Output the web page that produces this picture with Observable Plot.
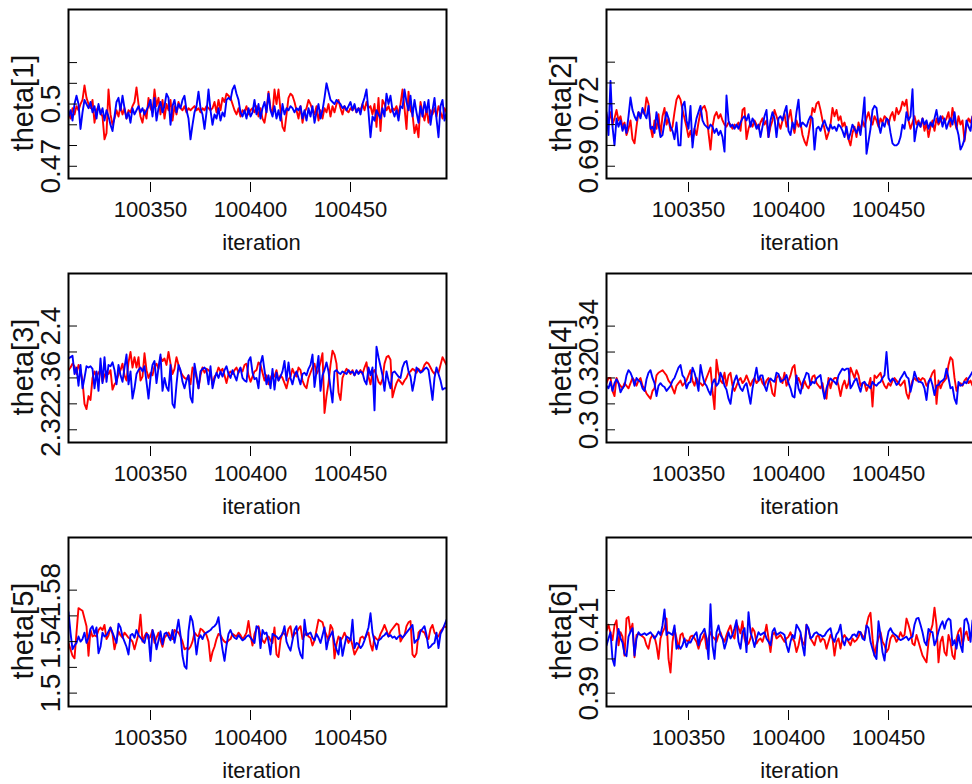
<!DOCTYPE html>
<html><head><meta charset="utf-8">
<script src="https://cdn.jsdelivr.net/npm/d3@7"></script>
<script src="https://cdn.jsdelivr.net/npm/@observablehq/plot@0.6"></script>
<style>
html,body{margin:0;padding:0;background:#fff;}
#chart{position:relative;width:972px;height:784px;overflow:hidden;background:#fff;}
#chart svg{position:absolute;max-width:none;}
</style></head><body><div id="chart"></div>
<script>
const iterations = d3.range(100310, 100500);
const xTicks = [100350, 100400, 100450];
const xLabel = "iteration";

const red1 = [0.496,0.493,0.498,0.495,0.499,0.497,0.500,0.502,0.509,0.503,
0.500,0.498,0.502,0.491,0.497,0.499,0.496,0.494,0.483,0.486,
0.507,0.495,0.490,0.493,0.497,0.494,0.499,0.495,0.498,0.493,
0.497,0.496,0.499,0.501,0.508,0.500,0.494,0.491,0.497,0.493,
0.503,0.498,0.496,0.507,0.499,0.503,0.495,0.502,0.493,0.500,
0.497,0.502,0.492,0.499,0.495,0.501,0.498,0.497,0.499,0.496,
0.498,0.497,0.498,0.499,0.497,0.498,0.496,0.498,0.497,0.499,
0.498,0.497,0.498,0.501,0.496,0.502,0.497,0.503,0.501,0.505,
0.504,0.503,0.500,0.497,0.495,0.498,0.494,0.497,0.496,0.499,
0.495,0.497,0.498,0.496,0.499,0.494,0.498,0.493,0.491,0.497,
0.506,0.498,0.495,0.507,0.500,0.507,0.497,0.489,0.487,0.495,
0.503,0.505,0.504,0.501,0.497,0.493,0.499,0.491,0.496,0.498,
0.502,0.500,0.497,0.495,0.499,0.492,0.497,0.493,0.498,0.496,
0.500,0.494,0.499,0.496,0.500,0.502,0.498,0.495,0.499,0.497,
0.496,0.498,0.497,0.499,0.496,0.498,0.497,0.500,0.497,0.501,
0.498,0.499,0.495,0.500,0.489,0.503,0.487,0.502,0.500,0.497,
0.499,0.496,0.498,0.497,0.499,0.495,0.500,0.507,0.498,0.488,
0.506,0.497,0.495,0.486,0.490,0.484,0.501,0.496,0.492,0.498,
0.491,0.497,0.495,0.498,0.494,0.499,0.496,0.493,0.498,0.496];
const blue1 = [0.494,0.497,0.492,0.500,0.504,0.500,0.488,0.496,0.502,0.500,
0.498,0.501,0.496,0.499,0.493,0.500,0.495,0.498,0.492,0.497,
0.494,0.490,0.487,0.494,0.501,0.503,0.497,0.504,0.498,0.493,
0.496,0.491,0.498,0.495,0.497,0.499,0.496,0.498,0.495,0.497,
0.499,0.502,0.494,0.503,0.492,0.498,0.501,0.496,0.499,0.505,
0.503,0.490,0.499,0.502,0.496,0.500,0.498,0.502,0.504,0.497,
0.493,0.483,0.490,0.496,0.499,0.506,0.498,0.495,0.488,0.496,
0.507,0.497,0.490,0.495,0.493,0.498,0.492,0.496,0.494,0.502,
0.503,0.502,0.507,0.509,0.505,0.502,0.496,0.494,0.497,0.493,
0.498,0.494,0.496,0.502,0.495,0.500,0.493,0.498,0.501,0.496,
0.505,0.497,0.494,0.499,0.493,0.497,0.492,0.500,0.495,0.498,
0.497,0.499,0.498,0.496,0.498,0.497,0.499,0.493,0.497,0.492,
0.498,0.494,0.499,0.491,0.496,0.500,0.493,0.497,0.503,0.510,
0.506,0.502,0.501,0.500,0.502,0.501,0.500,0.498,0.499,0.497,
0.499,0.501,0.497,0.500,0.496,0.498,0.495,0.500,0.503,0.507,
0.496,0.484,0.494,0.492,0.497,0.495,0.493,0.498,0.494,0.505,
0.500,0.504,0.497,0.494,0.497,0.492,0.499,0.498,0.507,0.501,
0.497,0.504,0.494,0.502,0.496,0.491,0.499,0.494,0.501,0.496,
0.502,0.490,0.497,0.503,0.493,0.484,0.499,0.502,0.492,0.496];

const red2 = [0.715,0.711,0.716,0.710,0.713,0.717,0.712,0.714,0.709,0.711,
0.705,0.708,0.712,0.703,0.701,0.709,0.716,0.714,0.717,0.715,
0.723,0.720,0.709,0.704,0.712,0.708,0.715,0.705,0.714,0.718,
0.710,0.713,0.707,0.709,0.716,0.722,0.724,0.722,0.717,0.713,
0.709,0.704,0.707,0.702,0.708,0.705,0.711,0.716,0.718,0.719,
0.716,0.706,0.698,0.709,0.714,0.716,0.713,0.715,0.712,0.710,
0.709,0.711,0.710,0.708,0.710,0.709,0.711,0.707,0.717,0.718,
0.703,0.708,0.711,0.709,0.712,0.710,0.708,0.711,0.713,0.710,
0.712,0.704,0.709,0.712,0.717,0.714,0.711,0.708,0.712,0.715,
0.709,0.713,0.717,0.710,0.706,0.712,0.709,0.711,0.705,0.702,
0.700,0.705,0.711,0.718,0.716,0.720,0.721,0.717,0.712,0.708,
0.703,0.706,0.710,0.718,0.714,0.717,0.712,0.714,0.709,0.711,
0.707,0.703,0.700,0.706,0.709,0.704,0.711,0.707,0.712,0.709,
0.713,0.716,0.712,0.710,0.714,0.712,0.709,0.713,0.711,0.714,
0.713,0.710,0.714,0.716,0.712,0.718,0.715,0.717,0.721,0.719,
0.722,0.712,0.708,0.711,0.714,0.710,0.712,0.709,0.713,0.707,
0.711,0.704,0.709,0.712,0.707,0.713,0.710,0.712,0.714,0.711,
0.713,0.716,0.709,0.718,0.712,0.708,0.714,0.710,0.712,0.702,
0.710,0.713,0.711,0.714,0.712,0.710,0.713,0.711,0.712,0.710];
const blue2 = [0.716,0.705,0.731,0.709,0.700,0.713,0.709,0.712,0.707,0.710,
0.706,0.714,0.723,0.717,0.714,0.712,0.716,0.713,0.718,0.715,
0.713,0.719,0.708,0.709,0.706,0.716,0.710,0.704,0.705,0.711,
0.716,0.713,0.709,0.707,0.703,0.711,0.700,0.700,0.719,0.721,
0.712,0.708,0.719,0.699,0.708,0.713,0.716,0.719,0.712,0.710,
0.709,0.708,0.710,0.709,0.706,0.708,0.705,0.707,0.704,0.697,
0.724,0.712,0.709,0.710,0.708,0.710,0.708,0.711,0.713,0.714,
0.712,0.715,0.709,0.713,0.711,0.708,0.710,0.704,0.709,0.714,
0.717,0.704,0.712,0.716,0.713,0.704,0.713,0.714,0.712,0.716,
0.719,0.707,0.705,0.711,0.708,0.716,0.722,0.709,0.711,0.710,
0.709,0.712,0.714,0.713,0.698,0.708,0.709,0.707,0.710,0.712,
0.709,0.707,0.710,0.708,0.709,0.707,0.710,0.709,0.707,0.704,
0.709,0.703,0.706,0.710,0.708,0.706,0.709,0.705,0.713,0.723,
0.696,0.702,0.708,0.717,0.719,0.718,0.710,0.706,0.711,0.709,
0.713,0.712,0.706,0.701,0.700,0.700,0.701,0.704,0.710,0.708,
0.716,0.712,0.714,0.727,0.702,0.708,0.711,0.709,0.713,0.710,
0.712,0.708,0.711,0.709,0.713,0.717,0.711,0.714,0.709,0.713,
0.708,0.711,0.713,0.710,0.716,0.709,0.705,0.698,0.700,0.703,
0.712,0.709,0.707,0.714,0.711,0.709,0.712,0.710,0.708,0.711];

const red3 = [2.366,2.368,2.371,2.369,2.363,2.370,2.366,2.358,2.340,2.336,
2.346,2.343,2.360,2.365,2.361,2.364,2.366,2.357,2.362,2.365,
2.363,2.366,2.351,2.355,2.357,2.363,2.366,2.371,2.362,2.358,
2.372,2.380,2.368,2.376,2.368,2.376,2.358,2.361,2.379,2.366,
2.360,2.364,2.362,2.369,2.371,2.367,2.376,2.373,2.375,2.370,
2.380,2.371,2.363,2.367,2.376,2.370,2.365,2.362,2.360,2.359,
2.362,2.355,2.368,2.366,2.360,2.352,2.362,2.368,2.364,2.367,
2.366,2.364,2.355,2.361,2.363,2.368,2.365,2.367,2.362,2.356,
2.363,2.365,2.363,2.366,2.368,2.364,2.367,2.365,2.370,2.371,
2.362,2.357,2.361,2.365,2.366,2.372,2.370,2.364,2.358,2.362,
2.355,2.360,2.363,2.361,2.366,2.358,2.362,2.360,2.356,2.352,
2.359,2.361,2.367,2.363,2.361,2.368,2.366,2.358,2.354,2.352,
2.360,2.364,2.368,2.371,2.363,2.366,2.372,2.379,2.333,2.346,
2.356,2.370,2.381,2.378,2.371,2.349,2.343,2.360,2.364,2.367,
2.365,2.363,2.366,2.362,2.365,2.364,2.366,2.363,2.368,2.372,
2.361,2.355,2.364,2.366,2.362,2.357,2.355,2.359,2.371,2.376,
2.377,2.374,2.345,2.351,2.356,2.359,2.357,2.355,2.358,2.360,
2.364,2.365,2.367,2.366,2.364,2.367,2.365,2.366,2.370,2.372,
2.371,2.368,2.365,2.363,2.366,2.364,2.370,2.376,2.373,2.370];
const blue3 = [2.375,2.376,2.377,2.363,2.368,2.354,2.370,2.352,2.360,2.369,
2.368,2.369,2.367,2.352,2.365,2.350,2.375,2.356,2.376,2.357,
2.370,2.369,2.372,2.366,2.355,2.370,2.362,2.357,2.368,2.378,
2.355,2.365,2.344,2.352,2.363,2.366,2.368,2.365,2.369,2.357,
2.344,2.360,2.370,2.373,2.356,2.368,2.378,2.350,2.360,2.353,
2.350,2.370,2.340,2.337,2.355,2.370,2.366,2.357,2.352,2.358,
2.362,2.345,2.341,2.371,2.362,2.352,2.365,2.367,2.368,2.366,
2.355,2.369,2.352,2.359,2.364,2.360,2.365,2.361,2.366,2.369,
2.363,2.360,2.366,2.362,2.358,2.365,2.368,2.360,2.358,2.357,
2.373,2.376,2.364,2.359,2.360,2.352,2.371,2.377,2.366,2.355,
2.362,2.352,2.367,2.351,2.364,2.358,2.361,2.365,2.373,2.358,
2.372,2.360,2.355,2.362,2.365,2.360,2.355,2.363,2.364,2.362,
2.367,2.370,2.378,2.353,2.365,2.377,2.350,2.362,2.366,2.372,
2.365,2.352,2.341,2.365,2.366,2.364,2.363,2.365,2.364,2.363,
2.366,2.364,2.365,2.362,2.366,2.363,2.365,2.364,2.358,2.355,
2.368,2.362,2.368,2.335,2.384,2.376,2.369,2.362,2.350,2.365,
2.358,2.352,2.364,2.365,2.363,2.361,2.360,2.368,2.372,2.373,
2.365,2.361,2.350,2.358,2.368,2.366,2.364,2.365,2.367,2.368,
2.366,2.355,2.343,2.360,2.368,2.363,2.358,2.351,2.352,2.352];

const red4 = [0.318,0.320,0.320,0.315,0.313,0.320,0.318,0.317,0.316,0.318,
0.317,0.316,0.318,0.320,0.319,0.317,0.319,0.320,0.317,0.316,
0.314,0.313,0.312,0.315,0.316,0.321,0.322,0.3225,0.323,0.322,
0.321,0.319,0.318,0.316,0.314,0.317,0.318,0.319,0.317,0.318,
0.319,0.321,0.323,0.319,0.317,0.320,0.318,0.318,0.317,0.318,
0.320,0.322,0.324,0.315,0.308,0.327,0.322,0.319,0.318,0.322,
0.317,0.321,0.322,0.317,0.315,0.317,0.319,0.320,0.318,0.319,
0.321,0.319,0.317,0.319,0.320,0.318,0.319,0.320,0.318,0.317,
0.319,0.320,0.318,0.314,0.313,0.320,0.321,0.320,0.318,0.322,
0.317,0.319,0.321,0.324,0.325,0.318,0.320,0.318,0.316,0.319,
0.317,0.316,0.318,0.3205,0.321,0.318,0.317,0.316,0.318,0.313,
0.312,0.320,0.316,0.319,0.320,0.320,0.317,0.313,0.317,0.319,
0.316,0.318,0.324,0.322,0.320,0.323,0.321,0.317,0.318,0.318,
0.315,0.317,0.320,0.309,0.321,0.320,0.321,0.322,0.319,0.317,
0.316,0.318,0.317,0.319,0.320,0.319,0.318,0.317,0.318,0.319,
0.314,0.312,0.316,0.319,0.320,0.319,0.320,0.319,0.320,0.3195,
0.317,0.318,0.320,0.322,0.323,0.310,0.319,0.316,0.318,0.319,
0.320,0.325,0.328,0.327,0.320,0.315,0.317,0.318,0.317,0.319,
0.320,0.318,0.319,0.317,0.318,0.320,0.319,0.317,0.318,0.319];
const blue4 = [0.317,0.316,0.3185,0.315,0.318,0.3195,0.318,0.3145,0.316,0.317,
0.321,0.323,0.322,0.320,0.317,0.320,0.319,0.3185,0.316,0.315,
0.3195,0.322,0.323,0.320,0.318,0.313,0.317,0.318,0.317,0.3165,
0.315,0.316,0.317,0.319,0.320,0.322,0.324,0.325,0.321,0.320,
0.316,0.318,0.3185,0.324,0.322,0.319,0.315,0.325,0.321,0.318,
0.317,0.315,0.3135,0.318,0.3195,0.317,0.318,0.322,0.320,0.317,
0.3155,0.312,0.310,0.316,0.319,0.321,0.318,0.316,0.315,0.317,
0.318,0.314,0.310,0.316,0.320,0.324,0.319,0.321,0.321,0.317,
0.315,0.3185,0.3198,0.319,0.3185,0.322,0.3215,0.3185,0.319,0.3195,
0.3211,0.318,0.316,0.313,0.3125,0.321,0.316,0.314,0.318,0.3198,
0.322,0.3215,0.3173,0.3185,0.318,0.3198,0.3205,0.3211,0.316,0.312,
0.316,0.3185,0.3198,0.319,0.3185,0.3175,0.321,0.3224,0.3236,0.323,
0.3236,0.3236,0.316,0.3173,0.319,0.3198,0.317,0.3147,0.318,0.3185,
0.3173,0.317,0.316,0.3185,0.3175,0.317,0.318,0.3185,0.320,0.3211,
0.330,0.320,0.3185,0.3198,0.319,0.3173,0.318,0.3198,0.321,0.3224,
0.3205,0.3198,0.3147,0.318,0.3224,0.320,0.3185,0.3185,0.318,0.316,
0.3115,0.3185,0.3198,0.3173,0.3134,0.317,0.3173,0.3185,0.319,0.3198,
0.3236,0.320,0.316,0.3165,0.312,0.310,0.3185,0.317,0.3173,0.3185,
0.318,0.3198,0.321,0.3224,0.320,0.318,0.319,0.321,0.319,0.318];

const red5 = [1.539,1.534,1.529,1.527,1.547,1.566,1.565,1.564,1.558,1.552,
1.529,1.549,1.544,1.545,1.544,1.549,1.551,1.549,1.553,1.542,
1.545,1.551,1.546,1.534,1.541,1.548,1.545,1.543,1.547,1.545,
1.543,1.542,1.540,1.534,1.540,1.546,1.561,1.540,1.544,1.547,
1.542,1.544,1.549,1.539,1.543,1.547,1.541,1.536,1.543,1.545,
1.547,1.544,1.542,1.549,1.548,1.547,1.544,1.540,1.534,1.535,
1.534,1.536,1.540,1.547,1.545,1.544,1.550,1.549,1.547,1.545,
1.540,1.525,1.532,1.536,1.542,1.546,1.545,1.542,1.540,1.539,
1.541,1.542,1.546,1.545,1.544,1.547,1.545,1.542,1.544,1.547,
1.556,1.545,1.537,1.546,1.550,1.552,1.545,1.541,1.539,1.543,
1.544,1.541,1.539,1.551,1.530,1.528,1.541,1.547,1.546,1.544,
1.550,1.552,1.543,1.546,1.547,1.550,1.552,1.542,1.545,1.547,
1.544,1.543,1.537,1.541,1.549,1.557,1.556,1.555,1.549,1.545,
1.541,1.553,1.550,1.527,1.538,1.544,1.541,1.543,1.547,1.543,
1.539,1.543,1.537,1.530,1.533,1.536,1.543,1.544,1.542,1.545,
1.547,1.538,1.533,1.544,1.542,1.541,1.546,1.549,1.553,1.549,
1.544,1.548,1.550,1.552,1.554,1.553,1.540,1.543,1.545,1.552,
1.555,1.556,1.530,1.528,1.531,1.547,1.549,1.548,1.547,1.543,
1.542,1.550,1.553,1.547,1.545,1.544,1.548,1.550,1.552,1.551];
const blue5 = [1.563,1.547,1.534,1.537,1.539,1.544,1.540,1.542,1.547,1.539,
1.543,1.550,1.552,1.546,1.551,1.531,1.536,1.547,1.544,1.545,
1.548,1.551,1.547,1.543,1.539,1.554,1.551,1.544,1.540,1.536,
1.530,1.545,1.546,1.543,1.549,1.545,1.543,1.541,1.539,1.546,
1.545,1.525,1.549,1.544,1.534,1.541,1.548,1.538,1.546,1.547,
1.544,1.541,1.549,1.539,1.548,1.557,1.545,1.529,1.521,1.519,
1.548,1.560,1.556,1.545,1.530,1.542,1.545,1.542,1.546,1.547,
1.548,1.549,1.551,1.552,1.554,1.559,1.545,1.534,1.525,1.537,
1.546,1.549,1.545,1.543,1.542,1.545,1.543,1.541,1.542,1.544,
1.545,1.543,1.541,1.539,1.552,1.551,1.535,1.549,1.546,1.547,
1.540,1.530,1.546,1.545,1.544,1.542,1.544,1.546,1.552,1.540,
1.536,1.533,1.541,1.549,1.552,1.536,1.530,1.527,1.557,1.545,
1.546,1.547,1.543,1.541,1.546,1.543,1.539,1.545,1.551,1.534,
1.542,1.545,1.548,1.539,1.534,1.530,1.543,1.529,1.537,1.544,
1.543,1.541,1.557,1.535,1.539,1.538,1.535,1.537,1.541,1.546,
1.551,1.562,1.547,1.540,1.534,1.541,1.542,1.544,1.545,1.547,
1.544,1.545,1.543,1.544,1.542,1.544,1.545,1.543,1.545,1.547,
1.549,1.551,1.553,1.539,1.541,1.542,1.548,1.550,1.552,1.545,
1.535,1.536,1.538,1.539,1.547,1.535,1.546,1.549,1.553,1.557];

const red6 = [0.4082,0.4100,0.4075,0.4055,0.4098,0.4113,0.4040,0.4078,0.4065,0.4010,
0.4118,0.4123,0.4080,0.4103,0.4005,0.4070,0.4074,0.4070,0.4066,0.4060,
0.4040,0.4030,0.4060,0.4070,0.4065,0.4040,0.4000,0.4060,0.4078,0.4090,
0.4118,0.4000,0.3960,0.4050,0.4088,0.4060,0.4030,0.4070,0.4075,0.4050,
0.4055,0.4050,0.4065,0.4068,0.4060,0.4050,0.4030,0.4050,0.4060,0.4075,
0.4030,0.4060,0.4078,0.4065,0.4060,0.4050,0.4070,0.4078,0.4060,0.4050,
0.4070,0.4085,0.4098,0.4070,0.4060,0.4105,0.4090,0.4075,0.4110,0.4060,
0.4040,0.4045,0.4060,0.4090,0.4080,0.4045,0.4055,0.4060,0.4050,0.4070,
0.4100,0.4060,0.4020,0.4070,0.4078,0.4060,0.4065,0.4070,0.4060,0.4050,
0.4060,0.4065,0.4078,0.4060,0.4050,0.4020,0.4040,0.4070,0.4050,0.4040,
0.4100,0.4085,0.4060,0.4050,0.4040,0.4065,0.4070,0.4050,0.4060,0.4055,
0.4030,0.4050,0.4070,0.4060,0.4010,0.4050,0.4060,0.4030,0.4060,0.4070,
0.4060,0.4050,0.4040,0.4060,0.4050,0.4055,0.4065,0.4078,0.4068,0.4060,
0.4098,0.4123,0.4135,0.4060,0.4010,0.4040,0.4060,0.4078,0.4050,0.4040,
0.4020,0.4030,0.4060,0.4070,0.4065,0.4050,0.4060,0.4078,0.4065,0.4070,
0.4118,0.4100,0.4078,0.4045,0.4040,0.4070,0.4050,0.4030,0.4010,0.4000,
0.3990,0.4050,0.4080,0.4100,0.4150,0.4100,0.3990,0.4050,0.4065,0.4020,
0.4010,0.4070,0.4050,0.4010,0.4000,0.4060,0.4080,0.4090,0.4040,0.4070,
0.4080,0.4055,0.4070,0.4070,0.4060,0.4050,0.4075,0.4065,0.4055,0.4070];
const blue6 = [0.4039,0.4060,0.4078,0.4000,0.3980,0.4050,0.4088,0.4060,0.4048,0.4015,
0.4008,0.4065,0.4080,0.4090,0.4010,0.4060,0.4078,0.4070,0.4072,0.4075,
0.4070,0.4074,0.4078,0.4070,0.4060,0.4068,0.4080,0.4070,0.4098,0.4145,
0.4070,0.4078,0.4074,0.4070,0.4098,0.4030,0.4040,0.4030,0.4040,0.4060,
0.4035,0.4050,0.4048,0.4060,0.4070,0.4078,0.4040,0.4070,0.4078,0.4088,
0.4060,0.4000,0.4160,0.4039,0.4000,0.4078,0.4098,0.4070,0.4060,0.4030,
0.4050,0.4078,0.4060,0.4070,0.4090,0.4113,0.4050,0.4030,0.4078,0.4090,
0.4020,0.4137,0.4078,0.4060,0.4035,0.4060,0.4078,0.4070,0.4074,0.4078,
0.4060,0.4050,0.4040,0.4080,0.4090,0.4070,0.4074,0.4078,0.4075,0.4070,
0.4040,0.4020,0.4050,0.4070,0.4060,0.4100,0.4090,0.4078,0.4040,0.4010,
0.4100,0.4090,0.4060,0.4065,0.4075,0.4078,0.4072,0.4070,0.4065,0.4068,
0.4078,0.4085,0.4090,0.4060,0.4050,0.4072,0.4080,0.4100,0.4055,0.4040,
0.4062,0.4055,0.4060,0.4070,0.4072,0.4065,0.4080,0.4078,0.4060,0.4055,
0.4098,0.4090,0.4050,0.4030,0.4010,0.4000,0.4110,0.4070,0.4020,0.3995,
0.4050,0.4080,0.4090,0.4078,0.4072,0.4068,0.4060,0.4055,0.4058,0.4062,
0.4065,0.4055,0.4062,0.4065,0.4100,0.4118,0.4120,0.4100,0.4078,0.4050,
0.4040,0.4088,0.4080,0.4078,0.4040,0.4055,0.4080,0.4098,0.4110,0.4088,
0.4110,0.4118,0.4113,0.4040,0.4055,0.4030,0.4070,0.4040,0.4020,0.4113,
0.4118,0.4100,0.4050,0.4113,0.4100,0.4080,0.4090,0.4070,0.4085,0.4095];

const panels = [
  {name: "theta[1]", red: red1, blue: blue1, yDomain: [0.4641, 0.5456], yTicks: [0.47,0.48,0.49,0.50,0.51,0.52], yLabels: [0.47, 0.5], col: 0, row: 0},
  {name: "theta[2]", red: red2, blue: blue2, yDomain: [0.6841, 0.7653], yTicks: [0.69,0.70,0.71,0.72,0.73,0.74], yLabels: [0.69, 0.72], col: 1, row: 0},
  {name: "theta[3]", red: red3, blue: blue3, yDomain: [2.3102, 2.4405], yTicks: [2.32,2.34,2.36,2.38,2.40], yLabels: [2.32, 2.36, 2.4], col: 0, row: 1},
  {name: "theta[4]", red: red4, blue: blue4, yDomain: [0.2951, 0.3603], yTicks: [0.30,0.31,0.32,0.33,0.34], yLabels: [0.3, 0.32, 0.34], col: 1, row: 1},
  {name: "theta[5]", red: red5, blue: blue5, yDomain: [1.4896, 1.6209], yTicks: [1.50,1.52,1.54,1.56,1.58], yLabels: [1.5, 1.54, 1.58], col: 0, row: 2},
  {name: "theta[6]", red: red6, blue: blue6, yDomain: [0.3861, 0.4355], yTicks: [0.39,0.40,0.41,0.42], yLabels: [0.39, 0.41], col: 1, row: 2}
];

const colLeft = [0, 537.7];
const rowTop = [0, 264, 528];
const font = "'Liberation Sans', Arial, Helvetica, sans-serif";
const chart = document.getElementById("chart");

for (const p of panels) {
  const redRows = p.red.map((v, i) => ({it: iterations[i], v}));
  const blueRows = p.blue.map((v, i) => ({it: iterations[i], v}));
  const svg = Plot.plot({
    width: 460, height: 264,
    marginLeft: 68, marginRight: 14, marginTop: 9, marginBottom: 86,
    x: {domain: [100310, 100499]},
    y: {domain: p.yDomain},
    style: {fontFamily: font, background: "transparent", overflow: "visible"},
    marks: [
      Plot.line(redRows, {x: "it", y: "v", stroke: "#ff0000", strokeWidth: 1.9, clip: true}),
      Plot.line(blueRows, {x: "it", y: "v", stroke: "#0000ff", strokeWidth: 1.9, clip: true}),
      Plot.frame({stroke: "black", strokeWidth: 2}),
      Plot.axisX(xTicks, {tickSize: 10, tickPadding: 9, dy: 4, dx: 2, fontSize: 22, label: null, tickFormat: d => String(d), fill: "#111"}),
      Plot.text([xLabel], {frameAnchor: "bottom", dy: 71, dx: 4, fontSize: 22, fill: "#111"}),
      Plot.axisY(p.yTicks, {tickSize: 9, dx: 9, tickFormat: () => "", label: null}),
      Plot.text(p.yLabels, {y: d => d, text: d => String(d), frameAnchor: "left", dx: -17, rotate: -90, fontSize: 28, textAnchor: "middle", lineAnchor: "middle", fill: "#111"}),
      Plot.text([p.name], {frameAnchor: "left", dx: -45, dy: 9, rotate: -90, fontSize: 29, textAnchor: "middle", lineAnchor: "middle", fill: "#111"})
    ]
  });
  svg.style.left = colLeft[p.col] + "px";
  svg.style.top = rowTop[p.row] + "px";
  chart.append(svg);
}
</script>
</body></html>
